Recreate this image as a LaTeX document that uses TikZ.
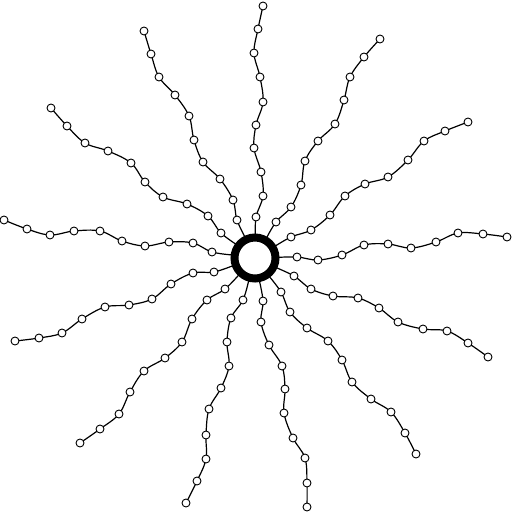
\documentclass[tikz,border=0pt]{standalone}
\usetikzlibrary{calc}
\pgfdeclarelayer{background}
\pgfsetlayers{background,main}
\tikzset{
  bead/.style={circle, draw=black, fill=white, line width=0.9pt, inner sep=0pt, minimum size=8pt},
  chain/.style={draw=black, line width=1.2pt},
  corering/.style={circle, draw=black, line width=8pt, inner sep=0pt, minimum size=41pt}
}
\newcommand\polyarm[2]{%
  \foreach \x/\y [count=\i] in {#2} {\node[bead] (#1\i) at (\x,\y) {};}
  \coordinate (#1r) at ($(core.center)!20pt!(#110)$);
  \begin{pgfonlayer}{background}
  \draw[chain] plot[smooth, tension=0.6] coordinates {(#1r) (#110) (#19) (#18) (#17) (#16) (#15) (#14) (#13) (#12) (#11)};
  \end{pgfonlayer}
}
\begin{document}
\begin{tikzpicture}[x=1pt,y=-1pt]
\useasboundingbox (0,0) rectangle (512,512);
\node[corering] (core) at (255,258) {};
\polyarm{A}{263/6, 258/29, 254/53, 260/77, 263/102, 256/125, 254/148, 261/172, 263/196, 256/217}
\polyarm{B}{144/31, 151/54, 159/77, 175/95, 189/116, 194/140, 203/162, 220/179, 233/200, 237/220}
\polyarm{C}{51/108, 67/126, 85/143, 108/151, 131/163, 145/182, 163/197, 187/204, 208/216, 221/233}
\polyarm{D}{4/220, 27/229, 50/235, 74/231, 100/231, 122/241, 145/246, 169/242, 193/243, 212/252}
\polyarm{E}{15/341, 39/338, 62/333, 82/319, 105/307, 129/305, 152/299, 171/284, 193/273, 214/272}
\polyarm{F}{80/443, 100/429, 119/414, 130/392, 144/371, 165/358, 182/342, 192/319, 207/300, 225/289}
\polyarm{G}{186/503, 197/481, 206/459, 206/435, 209/409, 221/388, 229/366, 227/342, 231/318, 243/300}
\polyarm{H}{307/507, 307/483, 305/458, 293/438, 284/413, 285/389, 282/366, 269/345, 261/322, 263/301}
\polyarm{I}{416/454, 405/433, 391/412, 371/399, 352/382, 342/360, 328/341, 307/328, 290/312, 281/292}
\polyarm{J}{488/357, 468/343, 447/331, 423/329, 398/322, 379/308, 358/298, 333/296, 311/289, 294/276}
\polyarm{K}{507/237, 483/234, 458/233, 436/242, 411/248, 388/244, 364/245, 342/255, 318/260, 297/257}
\polyarm{L}{468/122, 445/131, 424/141, 408/160, 388/177, 365/184, 345/196, 330/215, 311/230, 291/237}
\polyarm{M}{380/39, 364/57, 350/77, 344/100, 335/124, 318/141, 305/161, 301/185, 291/207, 276/222}
\end{tikzpicture}
\end{document}
